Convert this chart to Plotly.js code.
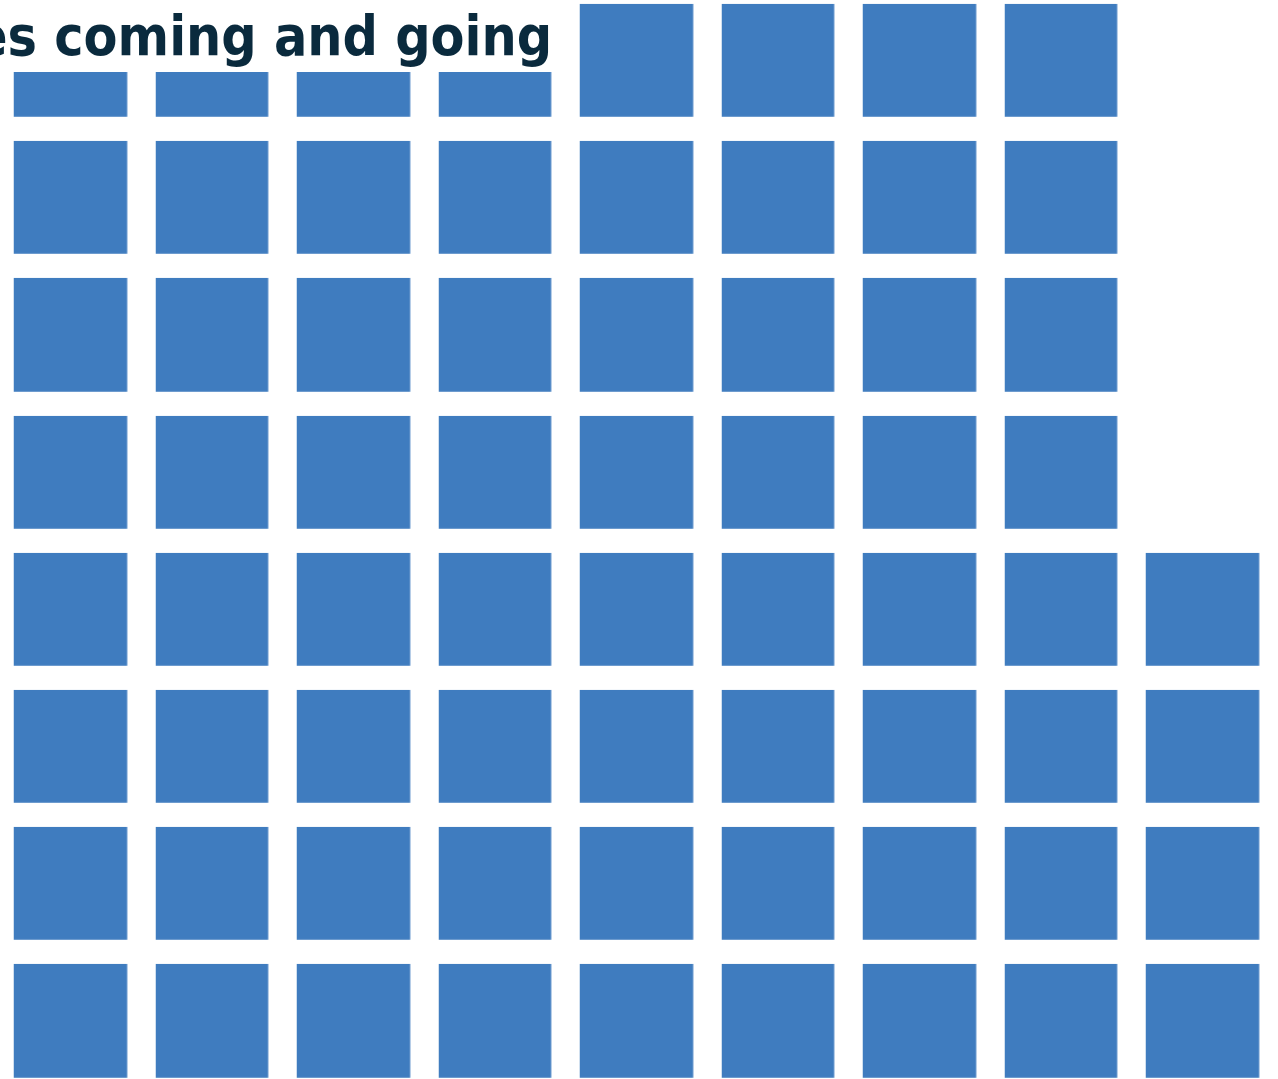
<!DOCTYPE html>
<html>
<head>
<meta charset="utf-8">
<script src="https://cdn.plot.ly/plotly-3.0.1.min.js"></script>
<style>html,body{margin:0;padding:0;background:#fff;}#chart{width:1278px;height:1079px;}</style>
</head>
<body>
<div id="chart"></div>
<script>
// Data
const titleText = "es coming and going";
const columns = [0, 1, 2, 3, 4, 5, 6, 7, 8];
const rows = [0, 1, 2, 3, 4, 5, 6, 7];
const rowCounts = [8, 8, 8, 8, 9, 9, 9, 9];

const z = rows.map((r, i) => columns.map(c => (c < rowCounts[i] ? 1 : null)));

const trace = {
  type: 'heatmap',
  x: columns,
  y: rows,
  z: z,
  xgap: 28.5,
  ygap: 24.2,
  zmin: 0,
  zmax: 1,
  colorscale: [[0, '#3f7cbf'], [1, '#3f7cbf']],
  showscale: false,
  hoverinfo: 'skip'
};

const layout = {
  width: 1278,
  height: 1079,
  margin: {l: 0, r: 0, t: 0, b: 0, pad: 0},
  paper_bgcolor: '#ffffff',
  plot_bgcolor: '#ffffff',
  showlegend: false,
  xaxis: {range: [-0.49823, 8.53357], visible: false, fixedrange: true},
  yaxis: {range: [7.42293, -0.44093], visible: false, fixedrange: true},
  shapes: [{
    type: 'rect', xref: 'paper', yref: 'paper', layer: 'above',
    x0: 0, x1: 566 / 1278, y0: 1, y1: 1 - 72 / 1079,
    fillcolor: '#ffffff', line: {width: 0}
  }],
  annotations: [{
    text: '<b>' + titleText + '</b>',
    xref: 'paper', yref: 'paper',
    x: 553 / 1278, y: 1, xanchor: 'right', yanchor: 'top',
    yshift: -3,
    showarrow: false, borderpad: 0,
    font: {family: '"DejaVu Sans Condensed", "Liberation Sans Narrow", sans-serif', size: 55, color: '#0a2a3d'}
  }]
};

Plotly.newPlot('chart', [trace], layout, {displayModeBar: false, staticPlot: true});
</script>
</body>
</html>
